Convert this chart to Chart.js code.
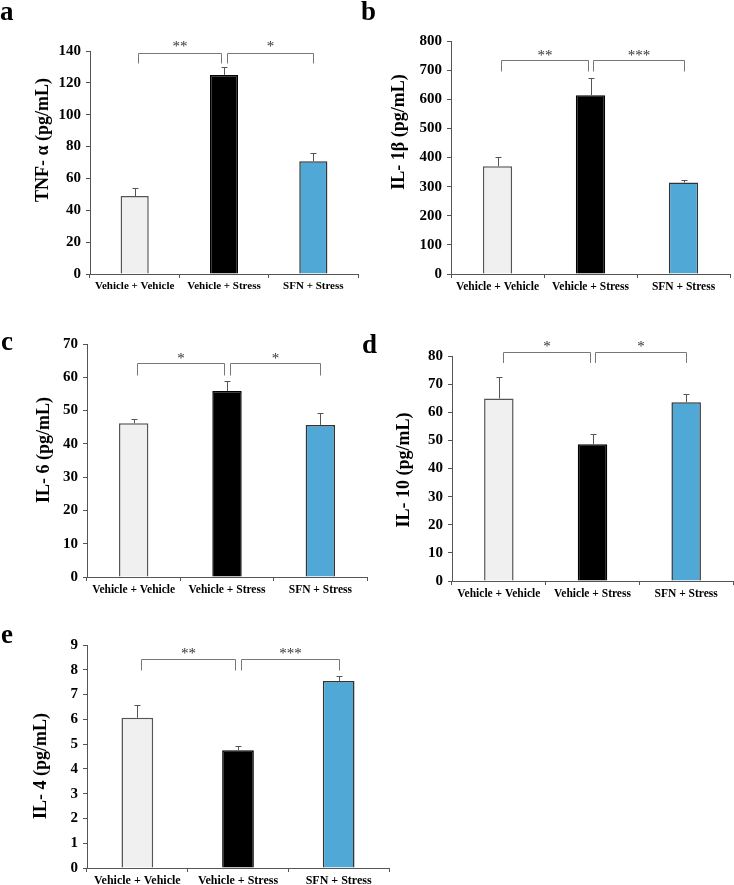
<!DOCTYPE html>
<html>
<head>
<meta charset="utf-8">
<script src="https://cdn.jsdelivr.net/npm/chart.js@4.4.0/dist/chart.umd.min.js"></script>
<style>
  html { overflow: hidden; }
  body { margin: 0; background: #fff; width: 734px; height: 900px; position: relative; overflow: hidden; }
  canvas { position: absolute; }
</style>
</head>
<body>
<script>
// groups on the x axis
const groups = ["Vehicle + Vehicle", "Vehicle + Stress", "SFN + Stress"];

// mean and SEM per cytokine (pg/mL)
const tnfMean  = [48.9, 125, 70.8];
const tnfErr   = [4.8, 5.0, 4.9];
const il1bMean = [370, 614, 314];
const il1bErr  = [33, 60, 9];
const il6Mean  = [46.2, 55.9, 45.7];
const il6Err   = [1.3, 3.1, 3.6];
const il10Mean = [64.9, 48.6, 63.6];
const il10Err  = [7.8, 3.6, 2.8];
const il4Mean  = [6.06, 4.75, 7.55];
const il4Err   = [0.51, 0.19, 0.21];

// significance marks: [VV vs VS, VS vs SFN]
const tnfStars  = ["**", "*"];
const il1bStars = ["**", "***"];
const il6Stars  = ["*", "*"];
const il10Stars = ["*", "*"];
const il4Stars  = ["**", "***"];

// y axis ranges
const tnfAxis  = [140, 20];
const il1bAxis = [800, 100];
const il6Axis  = [70, 10];
const il10Axis = [80, 10];
const il4Axis  = [9, 1];

const barFill = ["#f0f0f0", "#000000", "#50a8d6"];
const barEdge = ["#555555", "#000000", "#333333"];
const serif = "'Liberation Serif', 'Times New Roman', serif";
const spans = [[0.04, 0.97], [1.03, 2.0]];

const panels = [
  { letter: "a", title: "TNF- \u03b1 (pg/mL)", mean: tnfMean, err: tnfErr, axis: tnfAxis, stars: tnfStars,
    box: [0, 0, 370, 305], plot: [90, 51, 358, 274], titlePos: [43, 140], letterPos: [0, 20],
    bracket: [53, 10], starY: 43, xFont: 11 },
  { letter: "b", title: "IL- 1\u03b2 (pg/mL)", mean: il1bMean, err: il1bErr, axis: il1bAxis, stars: il1bStars,
    box: [358, 0, 376, 305], plot: [451, 41, 730, 274], titlePos: [399, 132], letterPos: [361, 20],
    bracket: [60, 11], starY: 52, xFont: 11.5 },
  { letter: "c", title: "IL- 6 (pg/mL)", mean: il6Mean, err: il6Err, axis: il6Axis, stars: il6Stars,
    box: [0, 305, 370, 300], plot: [87, 344, 367, 577], titlePos: [44, 450], letterPos: [1, 350],
    bracket: [363, 12], starY: 355, xFont: 11.5 },
  { letter: "d", title: "IL- 10 (pg/mL)", mean: il10Mean, err: il10Err, axis: il10Axis, stars: il10Stars,
    box: [358, 305, 376, 300], plot: [452, 356, 733, 581], titlePos: [404, 470], letterPos: [362, 353],
    bracket: [352, 10.5], starY: 343, xFont: 11.5 },
  { letter: "e", title: "IL- 4 (pg/mL)", mean: il4Mean, err: il4Err, axis: il4Axis, stars: il4Stars,
    box: [0, 605, 420, 295], plot: [87, 645, 389, 868], titlePos: [41, 766], letterPos: [1, 643],
    bracket: [659, 11], starY: 650, xFont: 12 }
];

const annotate = (p) => ({
  id: "annotate" + p.letter,
  afterDatasetsDraw(chart) {
    const ctx = chart.ctx, ys = chart.scales.y;
    const bars = chart.getDatasetMeta(0).data;
    ctx.save();
    ctx.strokeStyle = "#555";
    ctx.lineWidth = 1;
    bars.forEach((bar, i) => {
      const x = Math.round(bar.x) + 0.5;
      const top = Math.round(ys.getPixelForValue(p.mean[i] + p.err[i])) + 0.5;
      ctx.beginPath();
      ctx.moveTo(x, bar.y);
      ctx.lineTo(x, top);
      ctx.moveTo(x - 3, top);
      ctx.lineTo(x + 3, top);
      ctx.stroke();
    });
    ctx.restore();
  },
  afterDraw(chart) {
    const ctx = chart.ctx, xs = chart.scales.x;
    const [cx, cy] = p.box;
    const x0 = xs.getPixelForValue(0);
    const w = xs.getPixelForValue(1) - x0;
    const top = Math.round(p.bracket[0] - cy) + 0.5;
    const leg = p.bracket[1];
    ctx.save();
    ctx.strokeStyle = "#777";
    ctx.lineWidth = 1;
    ctx.fillStyle = "#333";
    ctx.font = "15px " + serif;
    ctx.textAlign = "center";
    ctx.textBaseline = "alphabetic";
    spans.forEach(([a, b], k) => {
      const xa = Math.round(x0 + a * w) + 0.5, xb = Math.round(x0 + b * w) + 0.5;
      ctx.beginPath();
      ctx.moveTo(xa, top + leg);
      ctx.lineTo(xa, top);
      ctx.lineTo(xb, top);
      ctx.lineTo(xb, top + leg);
      ctx.stroke();
      ctx.fillText(p.stars[k], (xa + xb) / 2, p.starY - cy + 8);
    });
    // y axis title
    ctx.fillStyle = "#000";
    ctx.font = "bold 18px " + serif;
    ctx.textBaseline = "middle";
    ctx.translate(p.titlePos[0] - cx, p.titlePos[1] - cy);
    ctx.rotate(-Math.PI / 2);
    ctx.fillText(p.title, 0, 0);
    ctx.restore();
    // panel letter
    ctx.save();
    ctx.fillStyle = "#000";
    ctx.font = "bold 27px " + serif;
    ctx.textAlign = "left";
    ctx.textBaseline = "alphabetic";
    ctx.fillText(p.letter, p.letterPos[0] - cx, p.letterPos[1] - cy);
    ctx.restore();
  }
});

const makePanel = (p) => {
  const [cx, cy, cw, ch] = p.box;
  const [pl, pt, pr, pb] = p.plot;
  const xh = 20;
  const canvas = document.createElement("canvas");
  canvas.width = cw;
  canvas.height = ch;
  canvas.style.left = cx + "px";
  canvas.style.top = cy + "px";
  document.body.appendChild(canvas);

  new Chart(canvas, {
    type: "bar",
    data: {
      labels: groups,
      datasets: [{
        data: p.mean,
        backgroundColor: barFill,
        borderColor: barEdge,
        borderWidth: 1.5,
        borderSkipped: "bottom",
        barPercentage: 0.315,
        categoryPercentage: 1
      }]
    },
    options: {
      responsive: false,
      animation: false,
      events: [],
      layout: { padding: { left: 0, top: pt - cy, right: cx + cw - pr, bottom: cy + ch - pb - xh } },
      plugins: { legend: { display: false }, tooltip: { enabled: false } },
      scales: {
        x: {
          afterFit: (s) => { s.height = xh; },
          grid: { display: true, drawOnChartArea: false, drawTicks: true, tickLength: 4, color: "#555", offset: true },
          border: { display: true, color: "#555", width: 1 },
          ticks: { color: "#000", padding: 2, maxRotation: 0, autoSkip: false,
                   font: { family: serif, size: p.xFont, weight: "bold" } }
        },
        y: {
          min: 0,
          max: p.axis[0],
          afterFit: (s) => { s.width = pl - cx; },
          grid: { display: true, drawOnChartArea: false, drawTicks: true, tickLength: 4, color: "#555" },
          border: { display: true, color: "#555", width: 1 },
          ticks: { stepSize: p.axis[1], color: "#000", padding: 5,
                   font: { family: serif, size: 15, weight: "bold" } }
        }
      }
    },
    plugins: [annotate(p)]
  });
};

panels.forEach(makePanel);
</script>
</body>
</html>
